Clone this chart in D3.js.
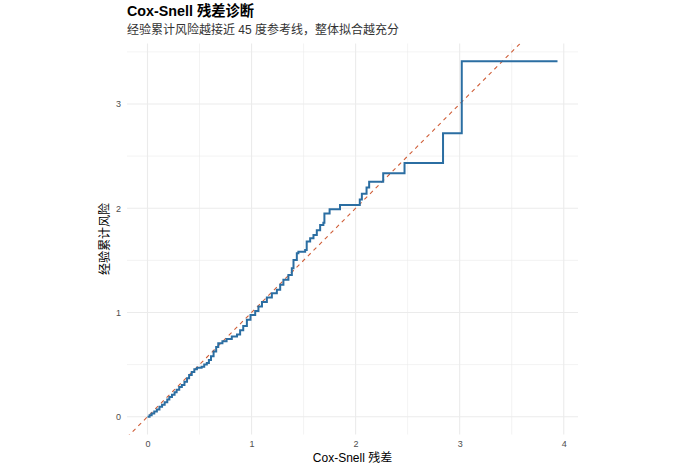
<!DOCTYPE html>
<html>
<head>
<meta charset="utf-8">
<script src="https://cdn.jsdelivr.net/npm/d3@7"></script>
<style>
  body { margin: 0; background: #fff; }
  text { font-family: "Liberation Sans", Arial, "Noto Sans CJK SC", sans-serif; }
</style>
</head>
<body>
<div id="chart"></div>
<script>
// Cox-Snell residuals (x) and Nelson-Aalen cumulative hazard (y)
const residuals = [0.00, 0.02, 0.04, 0.065, 0.09, 0.115, 0.14, 0.165, 0.19, 0.21, 0.235, 0.26, 0.28,
  0.305, 0.33, 0.355, 0.38, 0.40, 0.425, 0.45, 0.475, 0.52, 0.545, 0.57, 0.59, 0.61, 0.635, 0.66, 0.68,
  0.72, 0.76, 0.81, 0.86, 0.89, 0.92, 0.955, 0.99, 1.035, 1.066, 1.10, 1.147,
  1.195, 1.243, 1.275, 1.306, 1.354, 1.387, 1.403, 1.435, 1.45, 1.515, 1.53, 1.563, 1.595, 1.627,
  1.659, 1.69, 1.70, 1.75, 1.85, 2.04, 2.06, 2.105, 2.13, 2.265, 2.47, 2.84, 3.02, 3.94];
const cumHazard = [0.00, 0.015, 0.03, 0.05, 0.07, 0.095, 0.115, 0.14, 0.165, 0.19, 0.21, 0.235, 0.26,
  0.285, 0.305, 0.335, 0.37, 0.40, 0.43, 0.455, 0.47, 0.48, 0.50, 0.515, 0.545, 0.58, 0.625, 0.67, 0.705,
  0.725, 0.745, 0.77, 0.79, 0.83, 0.87, 0.93, 0.975, 1.015, 1.057, 1.10, 1.143,
  1.185, 1.217, 1.265, 1.313, 1.36, 1.424, 1.504, 1.568, 1.583, 1.60, 1.68, 1.712, 1.743, 1.79,
  1.839, 1.86, 1.95, 1.99, 2.03, 2.085, 2.14, 2.20, 2.255, 2.335, 2.435, 2.72, 3.41, 3.41];

const xTicks = [0, 1, 2, 3, 4];
const yTicks = [0, 1, 2, 3];

const width = 681, height = 471;
const panel = { left: 127, right: 578, top: 43.5, bottom: 434.5 };

const data = residuals.map((r, i) => ({ x: r, y: cumHazard[i] }));

// ggplot-style 5% expansion around the data range
const xr = d3.extent(residuals), yr = d3.extent(cumHazard);
const xPad = (xr[1] - xr[0]) * 0.05, yPad = (yr[1] - yr[0]) * 0.05;

const x = d3.scaleLinear()
  .domain([xr[0] - xPad, xr[1] + xPad])
  .range([panel.left, panel.right]);

const y = d3.scaleLinear()
  .domain([yr[0] - yPad, yr[1] + yPad])
  .range([panel.bottom, panel.top]);

const svg = d3.select("#chart").append("svg")
  .attr("width", width)
  .attr("height", height);

svg.append("defs").append("clipPath").attr("id", "clip")
  .append("rect")
  .attr("x", panel.left).attr("y", panel.top)
  .attr("width", panel.right - panel.left)
  .attr("height", panel.bottom - panel.top);

// grid
const grid = svg.append("g");
const xMinor = d3.range(-0.5, 4.6, 1).filter(v => x(v) >= panel.left && x(v) <= panel.right);
const yMinor = d3.range(-0.5, 3.6, 1).filter(v => y(v) >= panel.top && y(v) <= panel.bottom);

grid.selectAll(".xminor").data(xMinor).enter().append("line")
  .attr("x1", d => x(d)).attr("x2", d => x(d))
  .attr("y1", panel.top).attr("y2", panel.bottom)
  .attr("stroke", "#ebebeb").attr("stroke-width", 0.6);
grid.selectAll(".yminor").data(yMinor).enter().append("line")
  .attr("y1", d => y(d)).attr("y2", d => y(d))
  .attr("x1", panel.left).attr("x2", panel.right)
  .attr("stroke", "#ebebeb").attr("stroke-width", 0.6);
grid.selectAll(".xmajor").data(xTicks).enter().append("line")
  .attr("x1", d => x(d)).attr("x2", d => x(d))
  .attr("y1", panel.top).attr("y2", panel.bottom)
  .attr("stroke", "#ebebeb").attr("stroke-width", 1.1);
grid.selectAll(".ymajor").data(yTicks).enter().append("line")
  .attr("y1", d => y(d)).attr("y2", d => y(d))
  .attr("x1", panel.left).attr("x2", panel.right)
  .attr("stroke", "#ebebeb").attr("stroke-width", 1.1);

// axes (labels only, like theme_minimal)
const xAxis = svg.append("g")
  .attr("transform", `translate(0, ${panel.bottom})`)
  .call(d3.axisBottom(x).tickValues(xTicks).tickSize(0).tickPadding(6).tickFormat(d3.format("d")));
const yAxis = svg.append("g")
  .attr("transform", `translate(${panel.left}, 0)`)
  .call(d3.axisLeft(y).tickValues(yTicks).tickSize(0).tickPadding(6).tickFormat(d3.format("d")));

[xAxis, yAxis].forEach(a => {
  a.select(".domain").remove();
  a.selectAll("text")
    .attr("fill", "#4d4d4d")
    .style("font-size", "9px")
    .style("font-family", "'Liberation Sans', Arial, sans-serif");
});

// 45 degree reference line
const lo = Math.min(x.domain()[0], y.domain()[0]);
const hi = Math.max(x.domain()[1], y.domain()[1]);
svg.append("line")
  .attr("clip-path", "url(#clip)")
  .attr("x1", x(lo)).attr("y1", y(lo))
  .attr("x2", x(hi)).attr("y2", y(hi))
  .attr("stroke", "#cf5e38")
  .attr("stroke-width", 1.1)
  .attr("stroke-dasharray", "4,4");

// step curve
const line = d3.line()
  .x(d => x(d.x))
  .y(d => y(d.y))
  .curve(d3.curveStepAfter);

svg.append("path")
  .datum(data)
  .attr("d", line)
  .attr("fill", "none")
  .attr("stroke", "#2b6ea2")
  .attr("stroke-width", 2)
  .attr("stroke-linejoin", "miter");

// titles
svg.append("text")
  .attr("x", panel.left).attr("y", 16)
  .style("font-size", "14.3px").style("font-weight", "bold")
  .attr("fill", "#000")
  .text("Cox-Snell 残差诊断");

svg.append("text")
  .attr("x", panel.left).attr("y", 34)
  .style("font-size", "12px")
  .attr("fill", "#333")
  .text("经验累计风险越接近 45 度参考线，整体拟合越充分");

svg.append("text")
  .attr("x", (panel.left + panel.right) / 2).attr("y", 461.5)
  .attr("text-anchor", "middle")
  .style("font-size", "12px")
  .attr("fill", "#000")
  .text("Cox-Snell 残差");

svg.append("text")
  .attr("transform", `translate(109, ${(panel.top + panel.bottom) / 2}) rotate(-90)`)
  .attr("text-anchor", "middle")
  .style("font-size", "12px")
  .attr("fill", "#000")
  .text("经验累计风险");
</script>
</body>
</html>
